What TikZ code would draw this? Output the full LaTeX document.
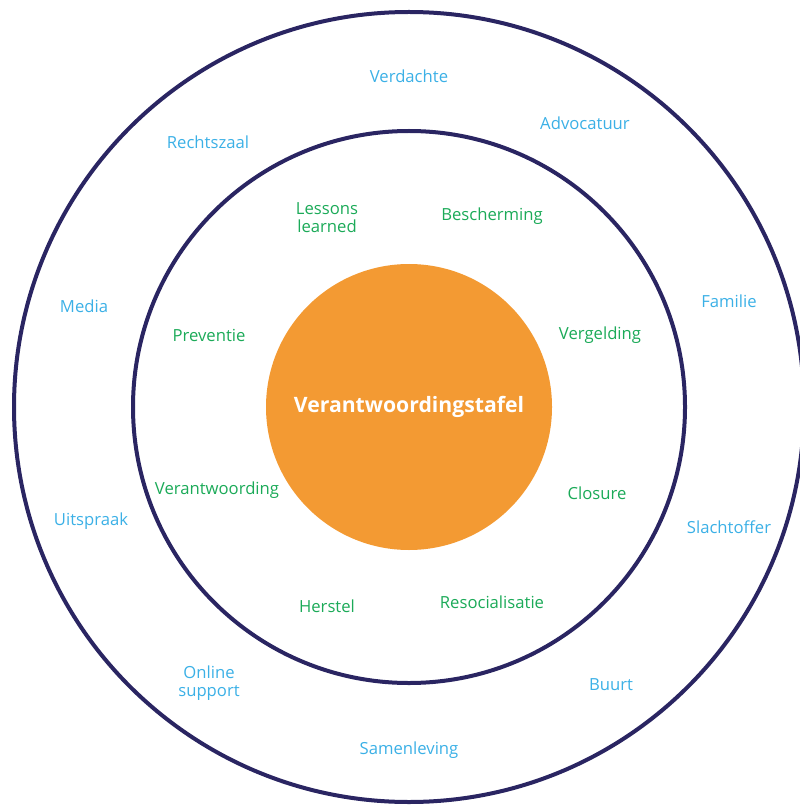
\documentclass[tikz,border=0pt]{standalone}
\usepackage{fontspec}
\setmainfont{Open Sans}
\usetikzlibrary{
	positioning		% relative placement
	, calc
}

\definecolor{ringnavy}{HTML}{2A2562}
\definecolor{tafelorange}{HTML}{F39A33}
\definecolor{outerblue}{HTML}{3BB0E6}
\definecolor{innergreen}{HTML}{1BAA58}

\begin{document}
\begin{tikzpicture}[
		x=0.75pt, y=-0.75pt
		, ring/.style={draw=ringnavy, line width=3pt}
		, tafel/.style={circle, fill=tafelorange, minimum size=214.5pt, inner sep=0pt,
			text=white, font=\fontsize{15.9}{18}\selectfont\bfseries}
		, outerlabel/.style={text=outerblue, align=center,
			font=\fontsize{12.5}{13.5}\selectfont}
		, innerlabel/.style={text=innergreen, align=center,
			font=\fontsize{12.5}{13.5}\selectfont}
	]
	
	% Fix the page to the size of the picture
	\useasboundingbox (0,0) rectangle (799,805);
	
	% Centre of all rings
	\coordinate (centre) at (409,407);
	
	% Draw the two rings
	\draw[ring] (centre) circle [radius=395];
	\draw[ring] (centre) circle [radius=276];
	
	% Draw the central table
	\node[tafel] (tafel) at (centre) {Verantwoordingstafel};
	
	% Loop through the labels of the outer ring
	\foreach [count=\i] \party/\px/\py in {
		Verdachte/409/76, Advocatuur/585/123, Rechtszaal/208/142,
		Familie/729/301, Media/84/306, Uitspraak/91/521,
		Slachtoffer/729/527, {Online\\support}/209/683, Buurt/611/685,
		Samenleving/409/750} {
		\node[outerlabel] (party\i) at (\px,\py) {\party};
	};
	
	% Loop through the labels of the inner ring
	\foreach [count=\i] \aim/\px/\py in {
		{Lessons\\learned}/327/218, Bescherming/492/216, Preventie/209/335,
		Vergelding/600/335, Verantwoording/217/490, Closure/597/493,
		Herstel/327/606, Resocialisatie/492/602} {
		\node[innerlabel] (aim\i) at (\px,\py) {\aim};
	};
\end{tikzpicture}
\end{document}
